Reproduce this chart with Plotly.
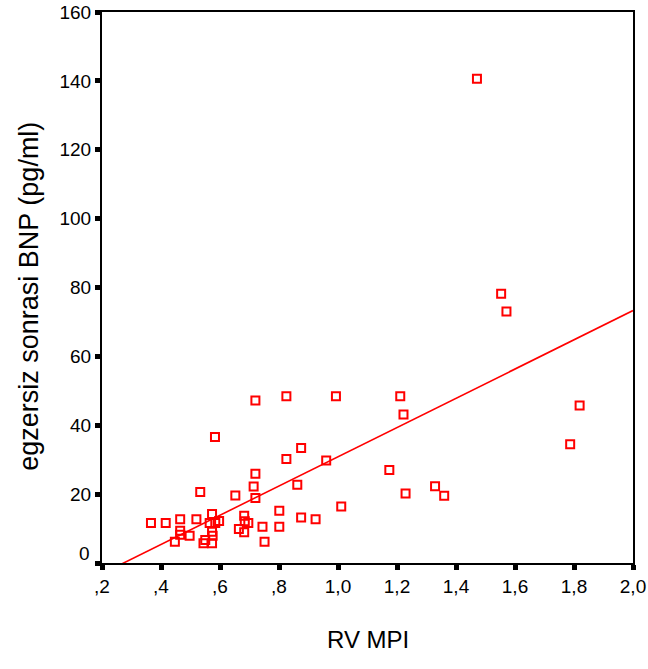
import plotly.graph_objects as go

# RV MPI (x) and post-exercise BNP (y)
rv_mpi = [
    1.471, 1.553, 1.571, 1.211, 1.222, 1.819, 1.787, 1.174, 1.229, 1.329, 1.360,
    0.720, 0.825, 0.993, 0.583, 0.875, 0.825, 0.960, 0.720,
    0.366, 0.416, 0.465, 0.465, 0.465, 0.447, 0.497, 0.520, 0.533,
    0.573, 0.565, 0.584, 0.597, 0.573, 0.575, 0.550, 0.544, 0.573,
    0.652, 0.714, 0.720, 0.682, 0.684, 0.696, 0.664, 0.682,
    0.744, 0.751, 0.801, 0.801, 0.862, 0.875, 0.924, 1.011,
]
bnp = [
    140.6, 78.2, 73.0, 48.4, 43.1, 45.7, 34.5, 27.0, 20.2, 22.3, 19.5,
    47.2, 48.4, 48.4, 36.6, 33.4, 30.2, 29.8, 25.9,
    11.6, 11.6, 12.7, 9.4, 8.2, 6.2, 7.9, 12.7, 20.6,
    14.2, 11.6, 11.6, 12.2, 9.1, 7.9, 6.7, 5.7, 5.7,
    19.6, 22.2, 18.9, 13.7, 12.1, 11.6, 9.9, 8.9,
    10.5, 6.2, 15.2, 10.5, 22.7, 13.2, 12.7, 16.4,
]

# Linear fit line as shown in the reference
fit_intercept = -11.6
fit_slope = 42.45
fit_x = [0.2, 2.0]

x_tickvals = [0.2, 0.4, 0.6, 0.8, 1.0, 1.2, 1.4, 1.6, 1.8, 2.0]
x_ticktext = [",2", ",4", ",6", ",8", "1,0", "1,2", "1,4", "1,6", "1,8", "2,0"]
y_tickvals = [0, 20, 40, 60, 80, 100, 120, 140, 160]
y_ticktext = ["", "20", "40", "60", "80", "100", "120", "140", "160"]

FONT = "Liberation Sans, Arial, sans-serif"
RED = "#FF0000"

fig = go.Figure()
fig.add_trace(go.Scatter(
    x=fit_x, y=[fit_intercept + fit_slope * v for v in fit_x],
    mode="lines", line=dict(color=RED, width=1.6), hoverinfo="skip",
))
fig.add_trace(go.Scatter(
    x=rv_mpi, y=bnp, mode="markers",
    marker=dict(symbol="square-open", size=8, color=RED, line=dict(color=RED, width=2)),
    cliponaxis=False,
))

fig.update_layout(
    width=648, height=669,
    margin=dict(l=102, r=15, t=12, b=106, autoexpand=False),
    paper_bgcolor="white", plot_bgcolor="white",
    showlegend=False,
    font=dict(family=FONT, color="black", size=19),
    xaxis=dict(
        range=[0.2, 2.0], tickvals=x_tickvals, ticktext=x_ticktext,
        showgrid=False, zeroline=False, automargin=False,
        showline=True, linecolor="black", linewidth=2, mirror=True,
        ticks="outside", ticklen=5, tickwidth=5, tickcolor="black",
        tickfont=dict(size=19, family=FONT, color="black"),
    ),
    yaxis=dict(
        range=[0, 160], tickvals=y_tickvals, ticktext=y_ticktext,
        showgrid=False, zeroline=False, automargin=False,
        showline=True, linecolor="black", linewidth=2, mirror=True,
        ticks="outside", ticklen=5, tickwidth=5, tickcolor="black",
        tickfont=dict(size=19, family=FONT, color="black"),
    ),
    annotations=[
        dict(text="0", x=-0.018, y=2.9, xref="paper", yref="y",
             xanchor="right", yanchor="middle", showarrow=False,
             font=dict(size=19, family=FONT, color="black")),
        dict(text="RV MPI", x=0.5, y=-0.1397, xref="paper", yref="paper",
             xanchor="center", yanchor="middle", showarrow=False,
             font=dict(size=24, family=FONT, color="black")),
        dict(text="egzersiz sonrasi BNP (pg/ml)", x=-0.1375, y=0.485,
             xref="paper", yref="paper", textangle=-90,
             xanchor="center", yanchor="middle", showarrow=False,
             font=dict(size=27, family=FONT, color="black")),
    ],
)

fig.write_html("out.html")
